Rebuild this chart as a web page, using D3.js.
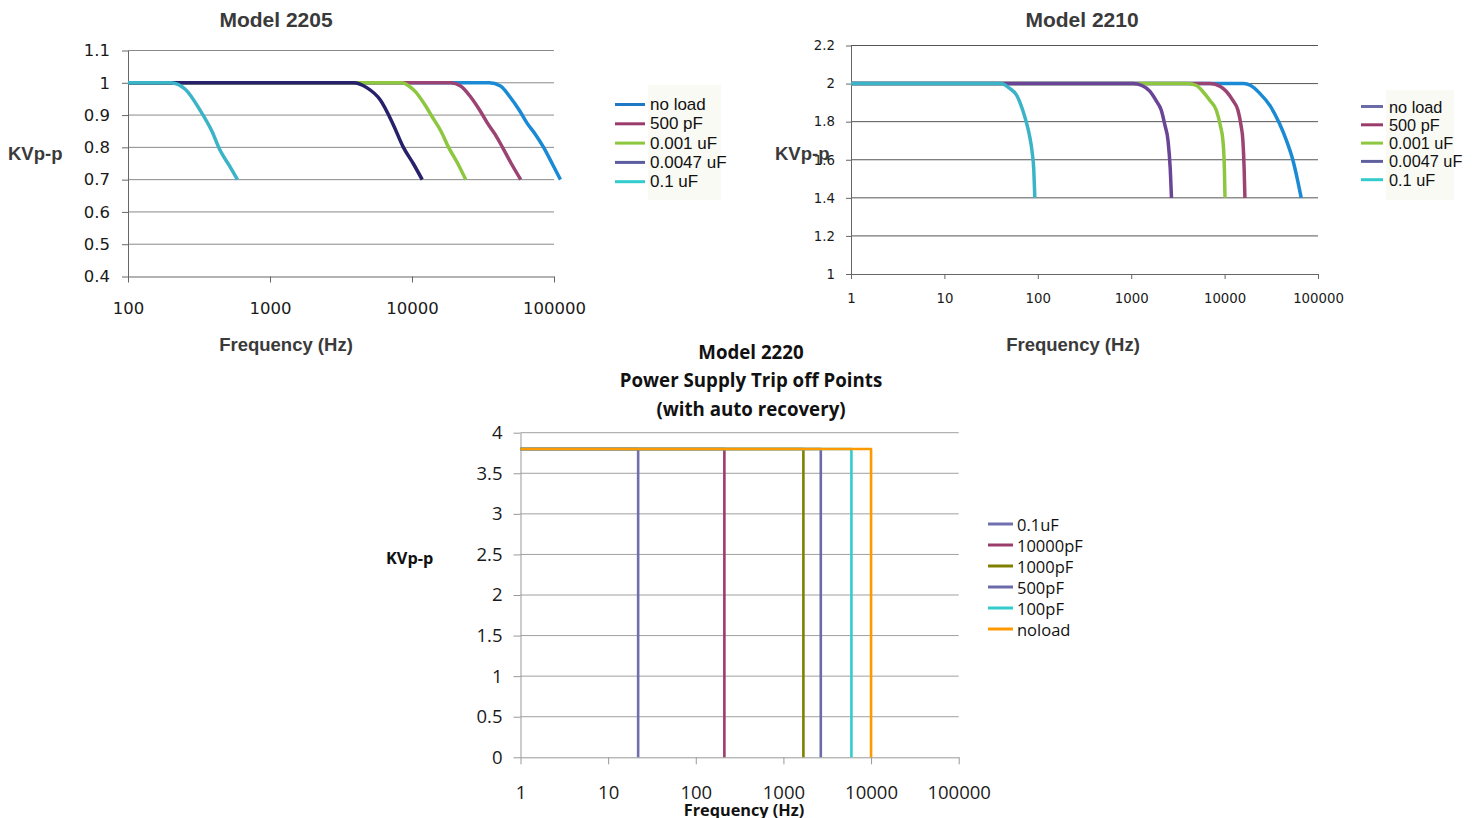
<!DOCTYPE html>
<html>
<head>
<meta charset="utf-8">
<script src="https://cdn.jsdelivr.net/npm/d3@7"></script>
<style>
  body { margin: 0; background: #fff; }
  svg { display: block; }
</style>
</head>
<body>
<svg id="chart" width="1478" height="818"></svg>
<script>
// ---------- DATA ----------
// Model 2205
var ticksX2205 = [100, 1000, 10000, 100000];
var ticksY2205 = [0.4, 0.5, 0.6, 0.7, 0.8, 0.9, 1, 1.1];
var names2205 = ['no load', '500 pF', '0.001 uF', '0.0047 uF', '0.1 uF'];
var noLoad2205 = [[100,1],[35000,1],[42000,0.99],[49000,0.956],[57000,0.915],[64600,0.875],[74000,0.84],[84500,0.80],[97000,0.75],[111000,0.70]];
var pf500_2205 = [[100,1],[18700,1],[22000,0.99],[25900,0.956],[30000,0.915],[34000,0.875],[38500,0.84],[43400,0.80],[50000,0.75],[58300,0.70]];
var uf001_2205 = [[100,1],[8500,1],[9500,0.99],[10600,0.972],[12200,0.935],[13900,0.894],[16000,0.85],[18100,0.80],[21000,0.75],[23900,0.70]];
var uf0047_2205 = [[100,1],[3870,1],[4800,0.985],[6000,0.946],[7300,0.875],[8700,0.80],[10200,0.75],[11800,0.70]];
var uf01_2205 = [[100,1],[200,1],[253,0.98],[322,0.915],[390,0.85],[446,0.79],[515,0.745],[590,0.70]];

// Model 2210
var ticksX2210 = [1, 10, 100, 1000, 10000, 100000];
var ticksY2210 = [1, 1.2, 1.4, 1.6, 1.8, 2, 2.2];
var names2210 = ['no load', '500 pF', '0.001 uF', '0.0047 uF', '0.1 uF'];
var noLoad2210 = [[1,2],[16000,2],[19000,1.99],[23700,1.95],[31000,1.88],[38700,1.79],[46000,1.70],[53700,1.60],[60000,1.50],[66100,1.40]];
var pf500_2210 = [[1,2],[7000,2],[9000,1.985],[10400,1.96],[12300,1.91],[13900,1.86],[15000,1.78],[15700,1.70],[16200,1.55],[16500,1.40]];
var uf001_2210 = [[1,2],[4000,2],[5000,1.99],[5800,1.96],[7000,1.91],[8150,1.86],[9000,1.78],[9600,1.70],[9950,1.55],[10100,1.40]];
var uf0047_2210 = [[1,2],[1050,2],[1300,1.99],[1580,1.96],[1850,1.91],[2100,1.86],[2300,1.78],[2480,1.70],[2620,1.55],[2700,1.40]];
var uf01_2210 = [[1,2],[40,2],[50,1.975],[60,1.935],[69,1.86],[77,1.78],[82,1.72],[87,1.64],[90.5,1.55],[93,1.40]];

// Model 2220 - trip off points
var ticksX2220 = [1, 10, 100, 1000, 10000, 100000];
var ticksY2220 = [0, 0.5, 1, 1.5, 2, 2.5, 3, 3.5, 4];
var names2220 = ['0.1uF', '10000pF', '1000pF', '500pF', '100pF', 'noload'];
var tripKV2220 = 3.8;
var tripFreq2220 = [22, 212, 1690, 2670, 5970, 10000];

// ---------- COLOURS ----------
var lineColors2205 = ['#1a8ad4', '#9b4474', '#8dc63f', '#27206b', '#3cb4c8'];
var legendColors2205 = ['#1f78c4', '#9b3b6b', '#8dc63f', '#5b5ba0', '#33cccc'];
var lineColors2210 = ['#1a8ad4', '#9b4474', '#8dc63f', '#6a4496', '#3cb4c8'];
var legendColors2210 = ['#6b6ba8', '#9b3b6b', '#8dc63f', '#5f5fa0', '#33cccc'];
var colors2220 = ['#7070b0', '#9b3d6b', '#808000', '#6b6baa', '#33cccc', '#ff9900'];

var svg = d3.select('#chart');

function drawChart(c) {
  var g = svg.append('g');
  var x = d3.scaleLog().domain(c.xDomain).range([c.left, c.right]);
  var y = d3.scaleLinear().domain(c.yDomain).range([c.bottom, c.top]);

  // horizontal grid
  g.selectAll('line.grid')
    .data(c.yTicks.filter(function(d) { return d !== c.yDomain[0]; }))
    .enter().append('line')
      .attr('class', 'grid')
      .attr('x1', c.left).attr('x2', c.right)
      .attr('y1', function(d) { return y(d); })
      .attr('y2', function(d) { return y(d); })
      .attr('stroke', c.gridColor)
      .attr('stroke-width', 1);

  // Y
  var yAxis = d3.axisLeft(y)
    .tickValues(c.yTicks)
    .tickSize(c.tickLen)
    .tickSizeOuter(0)
    .tickPadding(c.yPad)
    .tickFormat(function(d) { return String(d); });
  var ya = g.append('g')
    .attr('transform', 'translate(' + c.left + ',0)')
    .call(yAxis);

  // X
  var xAxis = d3.axisBottom(x)
    .tickValues(c.xTicks)
    .tickSize(c.tickLen)
    .tickSizeOuter(0)
    .tickPadding(c.xPad)
    .tickFormat(d3.format('d'));
  var xa = g.append('g')
    .attr('transform', 'translate(0,' + c.bottom + ')')
    .call(xAxis);

  [ya, xa].forEach(function(a) {
    a.select('.domain').attr('stroke', c.axisColor);
    a.selectAll('.tick line').attr('stroke', c.axisColor);
    a.selectAll('.tick text')
      .attr('fill', '#1a1a1a')
      .style('font-family', c.tickFont)
      .style('font-size', c.tickSize + 'px');
  });

  // lines
  var line = d3.line()
    .x(function(d) { return x(d[0]); })
    .y(function(d) { return y(d[1]); })
    .curve(c.curve);

  c.series.forEach(function(s, i) {
    g.append('path')
      .datum(s)
      .attr('d', line)
      .attr('fill', 'none')
      .attr('stroke', c.lineColors[i])
      .attr('stroke-width', c.lineWidth)
      .attr('stroke-linejoin', 'round');
  });

  // titles
  c.title.forEach(function(t, i) {
    g.append('text')
      .attr('x', c.titleX).attr('y', c.titleY + i * c.titleStep)
      .attr('text-anchor', 'middle')
      .attr('dominant-baseline', 'central')
      .attr('fill', c.titleColor)
      .style('font-family', c.labelFont)
      .style('font-weight', 'bold')
      .style('font-size', c.titleSize + 'px')
      .text(t);
  });

  g.append('text')
    .attr('x', c.yLabelX).attr('y', c.yLabelY)
    .attr('dominant-baseline', 'central')
    .attr('fill', c.titleColor)
    .style('font-family', c.labelFont)
    .style('font-weight', 'bold')
    .style('font-size', c.axisTitleSize + 'px')
    .text('KVp-p');

  g.append('text')
    .attr('x', c.xLabelX).attr('y', c.xLabelY)
    .attr('text-anchor', 'middle')
    .attr('dominant-baseline', 'central')
    .attr('fill', c.titleColor)
    .style('font-family', c.labelFont)
    .style('font-weight', 'bold')
    .style('font-size', c.axisTitleSize + 'px')
    .text('Frequency (Hz)');

  // legend
  if (c.legendBox) {
    g.append('rect')
      .attr('x', c.legendBox[0]).attr('y', c.legendBox[1])
      .attr('width', c.legendBox[2]).attr('height', c.legendBox[3])
      .attr('fill', '#fafaf4');
  }
  var lg = g.selectAll('g.leg')
    .data(c.names)
    .enter().append('g')
      .attr('class', 'leg')
      .attr('transform', function(d, i) {
        return 'translate(' + c.legendX + ',' + (c.legendY + i * c.legendStep) + ')';
      });
  lg.append('line')
    .attr('x1', 0).attr('x2', c.legendLine)
    .attr('y1', 0).attr('y2', 0)
    .attr('stroke', function(d, i) { return c.legendColors[i]; })
    .attr('stroke-width', 3);
  lg.append('text')
    .attr('x', c.legendLine + c.legendGap).attr('y', 0)
    .attr('dominant-baseline', 'central')
    .attr('fill', '#111')
    .style('font-family', c.legendFont)
    .style('font-size', c.legendSize + 'px')
    .text(function(d) { return d; });
}

// Model 2205
drawChart({
  xDomain: [100, 100000], yDomain: [0.4, 1.1],
  left: 128, right: 554, top: 50.5, bottom: 276.5,
  xTicks: ticksX2205, yTicks: ticksY2205,
  gridColor: '#8a8a8a', axisColor: '#666', tickLen: 6, yPad: 12, xPad: 20,
  tickFont: '"DejaVu Sans", sans-serif', tickSize: 16.5,
  series: [noLoad2205, pf500_2205, uf001_2205, uf0047_2205, uf01_2205],
  lineColors: lineColors2205, lineWidth: 3.5, curve: d3.curveMonotoneX,
  title: ['Model 2205'], titleX: 276, titleY: 19.5, titleStep: 0, titleSize: 21, titleColor: '#3a3a3a',
  labelFont: '"Liberation Sans", Arial, sans-serif', axisTitleSize: 18.5,
  yLabelX: 8, yLabelY: 153, xLabelX: 286, xLabelY: 344.5,
  names: names2205, legendColors: legendColors2205,
  legendBox: [648, 85, 73, 115], legendX: 615, legendY: 104.5, legendStep: 19.3, legendLine: 30, legendGap: 5,
  legendFont: '"Liberation Sans", Arial, sans-serif', legendSize: 17
});

// Model 2210
drawChart({
  xDomain: [1, 100000], yDomain: [1, 2.2],
  left: 851, right: 1318, top: 45.5, bottom: 274,
  xTicks: ticksX2210, yTicks: ticksY2210,
  gridColor: '#555', axisColor: '#666', tickLen: 5, yPad: 11, xPad: 15,
  tickFont: '"DejaVu Sans", sans-serif', tickSize: 13.3,
  series: [noLoad2210, pf500_2210, uf001_2210, uf0047_2210, uf01_2210],
  lineColors: lineColors2210, lineWidth: 3.5, curve: d3.curveMonotoneX,
  title: ['Model 2210'], titleX: 1082, titleY: 19.5, titleStep: 0, titleSize: 21, titleColor: '#3a3a3a',
  labelFont: '"Liberation Sans", Arial, sans-serif', axisTitleSize: 18.5,
  yLabelX: 775, yLabelY: 153, xLabelX: 1073, xLabelY: 344.5,
  names: names2210, legendColors: legendColors2210,
  legendBox: [1386, 90, 68, 110], legendX: 1361, legendY: 106.5, legendStep: 18.3, legendLine: 22, legendGap: 6,
  legendFont: '"Liberation Sans", Arial, sans-serif', legendSize: 16.3
});

// Model 2220
drawChart({
  xDomain: [1, 100000], yDomain: [0, 4],
  left: 520.5, right: 958.7, top: 432.7, bottom: 757.3,
  xTicks: ticksX2220, yTicks: ticksY2220,
  gridColor: '#a0a0a0', axisColor: '#999', tickLen: 7, yPad: 11, xPad: 22,
  tickFont: '"Open Sans", sans-serif', tickSize: 18.5,
  series: tripFreq2220.map(function(f) { return [[1, tripKV2220], [f, tripKV2220], [f, 0]]; }),
  lineColors: colors2220, lineWidth: 2.6, curve: d3.curveLinear,
  title: ['Model 2220', 'Power Supply Trip off Points', '(with auto recovery)'],
  titleX: 751, titleY: 351, titleStep: 28.5, titleSize: 18.7, titleColor: '#111',
  labelFont: '"Open Sans", sans-serif', axisTitleSize: 16.3,
  yLabelX: 386, yLabelY: 558, xLabelX: 744, xLabelY: 810,
  names: names2220, legendColors: colors2220,
  legendBox: null, legendX: 988, legendY: 524, legendStep: 21, legendLine: 25, legendGap: 4,
  legendFont: '"Open Sans", sans-serif', legendSize: 16.5
});
</script>
</body>
</html>
